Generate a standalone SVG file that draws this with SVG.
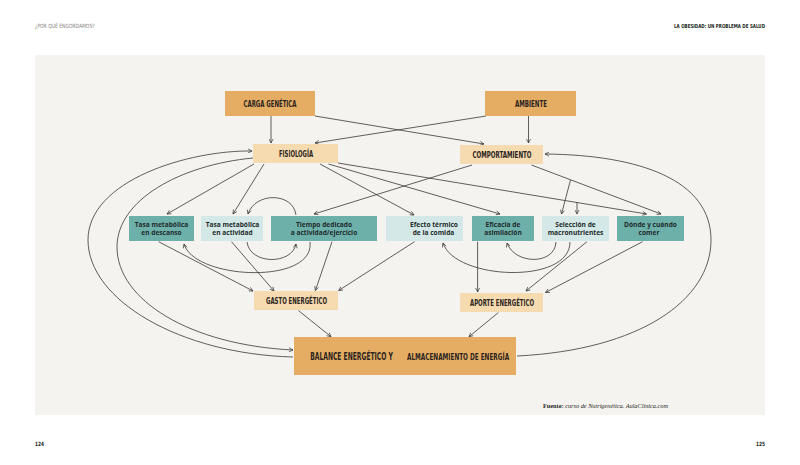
<svg xmlns="http://www.w3.org/2000/svg" width="800" height="465" viewBox="0 0 800 465">
<defs>
<marker id="ah" viewBox="0 0 10 10" refX="9" refY="5" markerWidth="5" markerHeight="5" markerUnits="userSpaceOnUse" orient="auto">
<path d="M1,1 L9,5 L1,9" fill="none" stroke="#3a3633" stroke-width="1.4"/>
</marker>
<style>
.bgp{fill:#f5f3f0}
.o{fill:#e5ad63}
.lo{fill:#f6dbb0}
.t{fill:#6db0aa}
.lt{fill:#d3e8e7}
.h{font-family:"Liberation Sans Narrow","DejaVu Sans Condensed","Liberation Sans",sans-serif;font-weight:bold;fill:#2b2420;text-anchor:middle}
.s{font-family:"Open Sans","Liberation Sans",sans-serif;font-weight:bold;font-size:6.6px;fill:#1f2b2a;text-anchor:middle}
.c path,.c line{fill:none;stroke:#3a3633;stroke-width:0.8}
.a{marker-end:url(#ah)}
.hd{font-family:"Liberation Sans Narrow","DejaVu Sans Condensed","Liberation Sans",sans-serif}
</style>
</defs>
<rect width="800" height="465" fill="#ffffff"/>
<rect class="bgp" x="35" y="55" width="730" height="360"/>
<text class="hd" transform="translate(35,28) scale(1,1.15)" font-size="5" fill="#8a8684">¿POR QUÉ ENGORDAMOS?</text>
<text class="hd" transform="translate(765,28) scale(1,1.2)" font-size="4.5" fill="#231f1c" font-weight="bold" text-anchor="end">LA OBESIDAD: UN PROBLEMA DE SALUD</text>
<text class="hd" transform="translate(35,446) scale(1,1.2)" font-size="4.8" fill="#231f1c" font-weight="bold">124</text>
<text class="hd" transform="translate(765,446) scale(1,1.2)" font-size="4.8" fill="#231f1c" font-weight="bold" text-anchor="end">125</text>

<g class="c">
<line class="a" x1="271" y1="116" x2="271" y2="143"/>
<line class="a" x1="315" y1="116" x2="484" y2="144"/>
<line class="a" x1="486" y1="116" x2="315" y2="143"/>
<line class="a" x1="528.5" y1="116" x2="528.5" y2="143"/>
<line class="a" x1="254" y1="164" x2="167" y2="214"/>
<line class="a" x1="264" y1="164" x2="233" y2="214"/>
<line class="a" x1="320" y1="164" x2="414" y2="215"/>
<line class="a" x1="328.5" y1="164" x2="500" y2="214"/>
<line class="a" x1="338" y1="163" x2="646.5" y2="214"/>
<line class="a" x1="577" y1="202" x2="577" y2="214"/>
<line class="a" x1="472" y1="165" x2="314" y2="214"/>
<line class="a" x1="531.5" y1="165" x2="661" y2="214"/>
<line class="a" x1="570.5" y1="180" x2="561.5" y2="214"/>
<line class="a" x1="158.6" y1="241.7" x2="253" y2="291"/>
<line class="a" x1="231.5" y1="241.7" x2="274" y2="291"/>
<line class="a" x1="332" y1="241.7" x2="315.4" y2="290.5"/>
<line class="a" x1="414.5" y1="241.7" x2="338.7" y2="290.5"/>
<line class="a" x1="477.6" y1="241.7" x2="477.6" y2="292"/>
<line class="a" x1="587" y1="241.7" x2="526" y2="291"/>
<line class="a" x1="642.6" y1="241.7" x2="545.5" y2="292.5"/>
<line class="a" x1="298.4" y1="310.5" x2="331" y2="336.7"/>
<line class="a" x1="498.4" y1="312.5" x2="469" y2="336.7"/>
<path class="a" d="M296,215 C293,192 255,192 248,214"/>
<path class="a" d="M247,242 C250,265 292,265 296,244"/>
<path class="a" d="M310,242 C315,285 195,280 184,244"/>
<path class="a" d="M556,242 C555,265 515,265 507,243"/>
<path class="a" d="M570,242 C570,285 455,280 443,243"/>
<path class="a" d="M253,158 C180,165 117,200 117,247 C117,300 190,345 293,350"/>
<path class="a" d="M293,357 C180,354 88,300 88,240 C88,180 190,150 252,151"/>
<path class="a" d="M517,356 C640,350 711,300 711,240 C711,180 640,155 545,154"/>
</g>

<g id="carga"><rect class="o" x="225" y="91" width="90" height="25"/><text class="h" x="270" y="107" font-size="9" textLength="53" lengthAdjust="spacingAndGlyphs">CARGA GENÉTICA</text></g>
<g id="ambiente"><rect class="o" x="485" y="91" width="91" height="25"/><text class="h" x="531" y="107" font-size="9" textLength="32" lengthAdjust="spacingAndGlyphs">AMBIENTE</text></g>
<g id="fisiologia"><rect class="lo" x="253" y="144" width="85" height="19"/><text class="h" x="296" y="157" font-size="8.5" textLength="34" lengthAdjust="spacingAndGlyphs">FISIOLOGÍA</text></g>
<g id="comportamiento"><rect class="lo" x="460" y="145" width="83" height="19"/><text class="h" x="502" y="158" font-size="8.5" textLength="59" lengthAdjust="spacingAndGlyphs">COMPORTAMIENTO</text></g>

<g id="descanso"><rect class="t" x="129" y="216" width="65" height="25"/><text class="s" x="161.5" y="226.5">Tasa metabólica</text><text class="s" x="161.5" y="234.5">en descanso</text></g>
<g id="actividad"><rect class="lt" x="201" y="216" width="62" height="25"/><text class="s" x="232.5" y="226.5">Tasa metabólica</text><text class="s" x="232.5" y="234.5">en actividad</text></g>
<g id="tiempo"><rect class="t" x="271" y="216" width="106" height="25"/><text class="s" x="324" y="226.5">Tiempo dedicado</text><text class="s" x="324" y="234.5">a actividad/ejercicio</text></g>
<g id="efecto"><rect class="lt" x="386" y="216" width="77" height="25"/><text class="s" x="434" y="226.5">Efecto térmico</text><text class="s" x="433.5" y="234.5">de la comida</text></g>
<g id="eficacia"><rect class="t" x="472" y="216" width="62" height="25"/><text class="s" x="503" y="226.5">Eficacia de</text><text class="s" x="503" y="234.5">asimilación</text></g>
<g id="seleccion"><rect class="lt" x="542" y="216" width="67" height="25"/><text class="s" x="575.5" y="226.5">Selección de</text><text class="s" x="575.5" y="234.5">macronutrientes</text></g>
<g id="donde"><rect class="t" x="617" y="216" width="67" height="25"/><text class="s" x="650.5" y="226.5">Dónde y cuándo</text><text class="s" x="649" y="234.5">comer</text></g>

<g id="gasto"><rect class="lo" x="254" y="291" width="84" height="19"/><text class="h" x="296.5" y="304" font-size="8.5" textLength="61" lengthAdjust="spacingAndGlyphs">GASTO ENERGÉTICO</text></g>
<g id="aporte"><rect class="lo" x="460" y="293" width="83" height="19"/><text class="h" x="502" y="306" font-size="8.5" textLength="64" lengthAdjust="spacingAndGlyphs">APORTE ENERGÉTICO</text></g>
<g id="balance"><rect class="o" x="294" y="337" width="222" height="38"/><text class="h" transform="translate(351.5,360) scale(1,1.5)" font-size="6.7">BALANCE ENERGÉTICO Y</text><text class="h" transform="translate(458,360) scale(1,1.5)" font-size="6.4">ALMACENAMIENTO DE ENERGÍA</text></g>

<text x="543" y="408" font-family="'Liberation Serif',serif" font-size="5.6" fill="#231f1c" textLength="125" lengthAdjust="spacingAndGlyphs"><tspan font-weight="bold">Fuente:</tspan><tspan font-style="italic"> curso de Nutrigenética. AulaClínica.com</tspan></text>
</svg>
